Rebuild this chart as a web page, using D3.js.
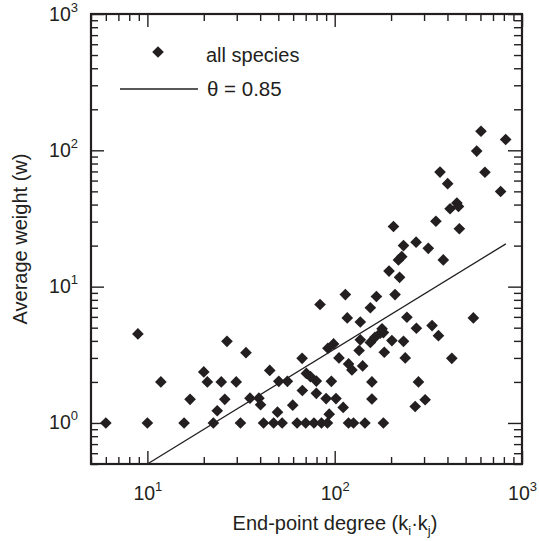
<!DOCTYPE html>
<html>
<head>
<meta charset="utf-8">
<script src="https://cdn.jsdelivr.net/npm/d3@7"></script>
<style>
  body { margin: 0; background: #fff; }
  text { font-family: "Liberation Sans", Arial, sans-serif; fill: #231f20; }
</style>
</head>
<body>
<div id="chart"></div>
<script>
// end-point degree (ki*kj) and average weight
const degree = [
  6, 10, 15.7, 22.5, 31.4, 41.7, 47.2, 52.4, 63, 70, 77.5, 85, 91.5, 118.5, 126, 145, 182,
  8.9, 11.8, 16.9, 20.0, 20.9, 23.6, 24.8, 25.9, 26.6, 29.8, 33.6, 35.3, 39.4, 40.2,
  45, 50.3, 55.9, 49.5, 59.7, 67, 67.2, 70.6, 74.2, 79.8, 79.8, 90, 93.5, 96, 101.6, 111,
  92, 98.6, 83.5, 105.4, 118.6, 123.6, 141, 135, 137, 155, 164, 175, 182, 202, 184,
  158, 158, 116.7, 137, 155, 114, 167, 210, 179, 243, 273, 331, 358, 550, 233, 238,
  422, 280, 269, 304, 195, 222, 219, 228, 233, 272, 206, 316, 380, 347, 463, 413, 449,
  458, 401, 365, 634, 769, 573, 604, 818
]
const weight = [
  1, 1, 1, 1, 1, 1, 1, 1, 1, 1, 1, 1, 1, 1, 1, 1, 1,
  4.5, 2.0, 1.49, 2.37, 2.0, 1.23, 2.0, 1.49, 3.97, 2.0, 3.28, 1.52, 1.52, 1.36,
  2.43, 2.02, 2.02, 1.2, 1.35, 2.98, 1.73, 2.31, 2.19, 2.03, 1.65, 1.51, 1.16, 2.02, 1.51, 1.30,
  3.53, 3.8, 7.4, 3.0, 2.71, 2.45, 2.62, 3.4, 4.07, 3.9, 4.25, 4.55, 4.6, 4.02, 3.3,
  1.5, 2.0, 5.9, 5.5, 7.0, 8.75, 8.46, 8.75, 4.9, 5.96, 4.95, 5.18, 4.37, 5.9, 3.97, 3.0,
  2.98, 2.0, 1.32, 1.48, 13, 11.7, 15.7, 16.6, 20, 21.2, 27.6, 19.1, 15.7, 30.2, 26.6, 37.3, 41,
  38.7, 56.9, 69.2, 69, 49.9, 98.7, 138, 120
]
// fitted power law (theta = 0.85), end points
const fitDegree = [10, 820]
const fitWeight = [0.5, 20.6]

const xMajor = [10, 100, 1000]
const xExp = ["1", "2", "3"]
const yMajor = [1, 10, 100, 1000]
const yExp = ["0", "1", "2", "3"]
const legendLabels = ["all species", "\u03b8 = 0.85"]

const width = 539
const height = 541
const marginTop = 14
const marginRight = 17
const marginBottom = 77
const marginLeft = 91
const ink = "#231f20"

const svg = d3.select("#chart")
  .append("svg")
  .attr("width", width)
  .attr("height", height)
  .attr("viewBox", [0, 0, width, height])

const x = d3.scaleLog()
  .domain([5, 1000])
  .range([marginLeft, width - marginRight])

const y = d3.scaleLog()
  .domain([0.5, 1000])
  .range([height - marginBottom, marginTop])

const xMinor = x.ticks().filter(v => !xMajor.includes(v))
const yMinor = y.ticks().filter(v => !yMajor.includes(v))

// inward ticks on all four sides
const tickAxis = (axisFn, scale, values, size, offset) => {
  const g = svg.append("g")
    .attr("transform", offset)
    .call(axisFn(scale).tickValues(values).tickSize(size).tickFormat(""))
  g.select(".domain").remove()
  g.selectAll("line").attr("stroke", ink).attr("stroke-width", 1.4)
  return g
}

const bottomY = height - marginBottom
const rightX = width - marginRight

tickAxis(d3.axisBottom, x, xMinor, -7, `translate(0,${bottomY})`)
const xAxis = tickAxis(d3.axisBottom, x, xMajor, -13, `translate(0,${bottomY})`)
tickAxis(d3.axisTop, x, xMinor, -7, `translate(0,${marginTop})`)
tickAxis(d3.axisTop, x, xMajor, -13, `translate(0,${marginTop})`)
tickAxis(d3.axisLeft, y, yMinor, -7, `translate(${marginLeft},0)`)
const yAxis = tickAxis(d3.axisLeft, y, yMajor, -13, `translate(${marginLeft},0)`)
tickAxis(d3.axisRight, y, yMinor, -8, `translate(${rightX},0)`)
tickAxis(d3.axisRight, y, yMajor, -14, `translate(${rightX},0)`)

// tick labels as 10 with superscript
xAxis.selectAll(".tick").each(function (d, i) {
  const t = d3.select(this).append("text")
    .attr("y", 36)
    .attr("text-anchor", "middle")
    .attr("font-size", 19.5)
  t.append("tspan").text("10")
  t.append("tspan").attr("dy", -9).attr("font-size", 13).text(xExp[i])
})

yAxis.selectAll(".tick").each(function (d, i) {
  const t = d3.select(this).append("text")
    .attr("x", -13)
    .attr("y", 6)
    .attr("text-anchor", "end")
    .attr("font-size", 19.5)
  t.append("tspan").text("10")
  t.append("tspan").attr("dy", -9).attr("font-size", 13).text(yExp[i])
})

// frame
svg.append("rect")
  .attr("x", marginLeft)
  .attr("y", marginTop)
  .attr("width", rightX - marginLeft)
  .attr("height", bottomY - marginTop)
  .attr("fill", "none")
  .attr("stroke", ink)
  .attr("stroke-width", 2.2)

// fit line
const line = d3.line()
  .x(d => x(d[0]))
  .y(d => y(d[1]))

svg.append("path")
  .datum(d3.zip(fitDegree, fitWeight))
  .attr("d", line)
  .attr("fill", "none")
  .attr("stroke", ink)
  .attr("stroke-width", 1.3)

// points
const diamond = d3.symbol(d3.symbolSquare, 68)

svg.append("g")
  .selectAll("path")
  .data(d3.zip(degree, weight))
  .join("path")
  .attr("d", diamond)
  .attr("transform", d => `translate(${x(d[0])},${y(d[1])}) rotate(45)`)
  .attr("fill", ink)

// legend
const legend = svg.append("g")
legend.append("path")
  .attr("d", diamond)
  .attr("transform", "translate(158,52) rotate(45)")
  .attr("fill", ink)
legend.append("text")
  .attr("x", 206)
  .attr("y", 62)
  .attr("font-size", 20)
  .text(legendLabels[0])
legend.append("line")
  .attr("x1", 120)
  .attr("x2", 198)
  .attr("y1", 89)
  .attr("y2", 89)
  .attr("stroke", ink)
  .attr("stroke-width", 1.3)
legend.append("text")
  .attr("x", 207)
  .attr("y", 95.5)
  .attr("font-size", 20.5)
  .text(legendLabels[1])

// axis titles
const xTitle = svg.append("text")
  .attr("x", 335)
  .attr("y", 530)
  .attr("text-anchor", "middle")
  .attr("font-size", 20)
xTitle.append("tspan").text("End-point degree (k")
xTitle.append("tspan").attr("dy", 5).attr("font-size", 13).text("i")
xTitle.append("tspan").attr("dy", -5).text("\u00b7k")
xTitle.append("tspan").attr("dy", 5).attr("font-size", 13).text("j")
xTitle.append("tspan").attr("dy", -5).text(")")

svg.append("text")
  .attr("transform", `translate(27,${(marginTop + bottomY) / 2}) rotate(-90)`)
  .attr("text-anchor", "middle")
  .attr("font-size", 20)
  .text("Average weight (w)")
</script>
</body>
</html>
